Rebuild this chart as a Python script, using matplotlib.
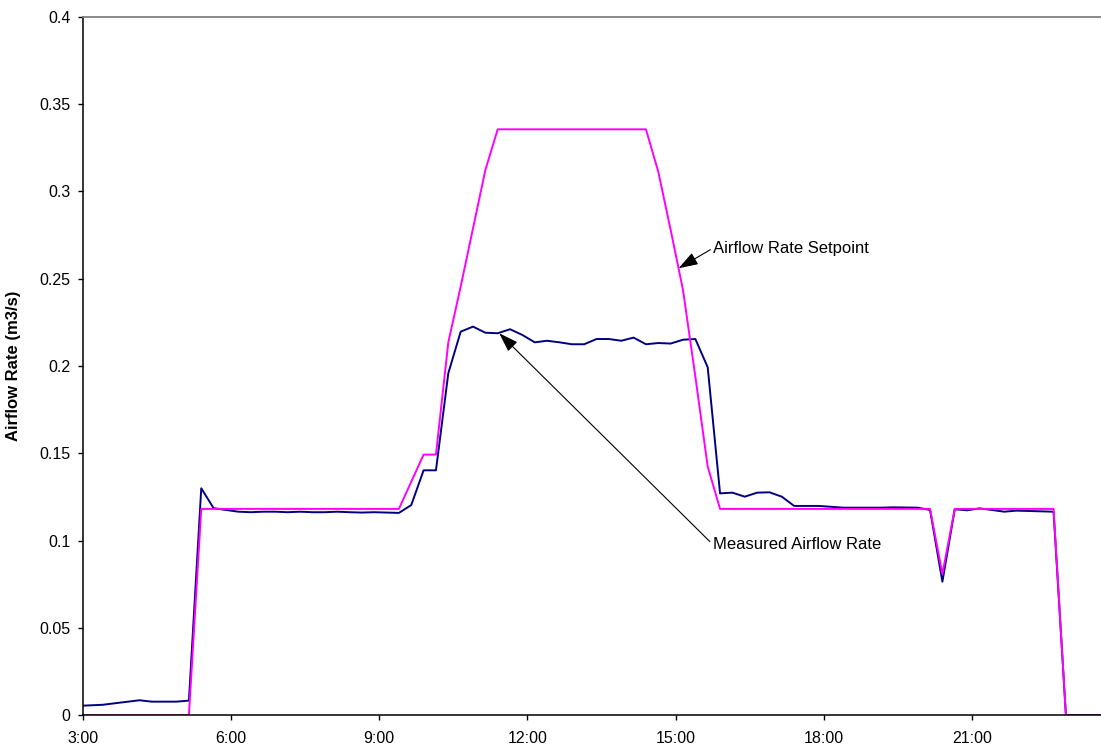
import matplotlib
matplotlib.use("Agg")
import matplotlib.pyplot as plt

plt.rcParams["font.family"] = ["Liberation Sans", "DejaVu Sans"]

# measured airflow (hours of day, m3/s)
hours_meas = [3.00, 3.40, 4.15, 4.40, 4.90, 5.15, 5.40, 5.65, 5.90, 6.15,
              6.40, 6.65, 6.90, 7.15, 7.40, 7.65, 7.90, 8.15, 8.40, 8.65,
              8.90, 9.15, 9.40, 9.65, 9.90, 10.15, 10.40, 10.65, 10.90, 11.15,
              11.40, 11.65, 11.90, 12.15, 12.40, 12.65, 12.90, 13.15, 13.40, 13.65,
              13.90, 14.15, 14.40, 14.65, 14.90, 15.15, 15.40, 15.65, 15.90, 16.15,
              16.40, 16.65, 16.90, 17.15, 17.40, 17.90, 18.40, 19.15, 19.40, 19.90,
              20.15, 20.40, 20.65, 20.90, 21.15, 21.40, 21.65, 21.90, 22.65, 22.90,
              23.65]
measured = [0.0055, 0.0060, 0.0086, 0.0078, 0.0078, 0.0084, 0.1300, 0.1186, 0.1176, 0.1166,
            0.1163, 0.1166, 0.1166, 0.1163, 0.1166, 0.1163, 0.1163, 0.1166, 0.1163, 0.1161,
            0.1163, 0.1161, 0.1159, 0.1204, 0.1403, 0.1403, 0.1959, 0.2197, 0.2226, 0.2191,
            0.2188, 0.2211, 0.2178, 0.2136, 0.2145, 0.2136, 0.2125, 0.2125, 0.2155, 0.2155,
            0.2145, 0.2163, 0.2125, 0.2132, 0.2129, 0.2151, 0.2155, 0.1993, 0.1271, 0.1275,
            0.1252, 0.1275, 0.1277, 0.1252, 0.1199, 0.1199, 0.1189, 0.1189, 0.1191, 0.1189,
            0.1176, 0.0765, 0.1180, 0.1174, 0.1185, 0.1176, 0.1166, 0.1172, 0.1166, 0.0,
            0.0]

# setpoint
hours_set = [3.00, 5.15, 5.40, 9.40, 9.90, 10.15, 10.40, 10.65, 10.90, 11.15,
             11.40, 14.40, 14.65, 14.90, 15.15, 15.40, 15.65, 15.90, 20.15, 20.40,
             20.65, 22.65, 22.90, 23.65]
setpoint = [0.0, 0.0, 0.1182, 0.1182, 0.1493, 0.1493, 0.2136, 0.2455, 0.2789, 0.3123,
            0.3356, 0.3356, 0.3113, 0.2780, 0.2436, 0.1940, 0.1424, 0.1182, 0.1182, 0.0809,
            0.1182, 0.1182, 0.0, 0.0]

x_ticks = [3, 6, 9, 12, 15, 18, 21]
x_labels = ["3:00", "6:00", "9:00", "12:00", "15:00", "18:00", "21:00"]
y_ticks = [0, 0.05, 0.1, 0.15, 0.2, 0.25, 0.3, 0.35, 0.4]
y_labels = ["0", "0.05", "0.1", "0.15", "0.2", "0.25", "0.3", "0.35", "0.4"]

fig = plt.figure(figsize=(11.01, 7.5), dpi=100)
ax = fig.add_axes([0.0751, 0.0463, 0.9249, 0.9312])

ax.plot(hours_meas, measured, color="#000080", lw=1.4)
ax.plot(hours_set, setpoint, color="#FF00FF", lw=1.4)

ax.set_xlim(3, 23.61)
ax.set_ylim(0, 0.4)
ax.set_xticks(x_ticks)
ax.set_xticklabels(x_labels)
ax.set_yticks(y_ticks)
ax.set_yticklabels(y_labels)
ax.tick_params(axis="both", direction="out", length=3.8, width=1, labelsize=11.5)
ax.tick_params(axis="x", pad=7.5)
ax.tick_params(axis="y", pad=5)

ax.spines["right"].set_visible(False)
ax.spines["top"].set_color("#808080")
ax.spines["top"].set_linewidth(1.3)
ax.spines["left"].set_linewidth(1.1)
ax.spines["bottom"].set_linewidth(1.1)

ax.set_ylabel("Airflow Rate (m3/s)", fontsize=12, fontweight="bold")
ax.yaxis.set_label_coords(-0.0610, 0.5)

arrow = dict(arrowstyle="-|>,head_length=1.2,head_width=0.4", color="black",
             lw=0.8, mutation_scale=10, relpos=(0, 0.5), shrinkA=0, shrinkB=0)
ax.annotate("Airflow Rate Setpoint", xy=(15.06, 0.256), xytext=(15.76, 0.2676),
            ha="left", va="center", fontsize=12, arrowprops=arrow)
ax.annotate("Measured Airflow Rate", xy=(11.43, 0.2188), xytext=(15.75, 0.0979),
            ha="left", va="center", fontsize=12, arrowprops=arrow)

fig.savefig("out.png", dpi=100)
